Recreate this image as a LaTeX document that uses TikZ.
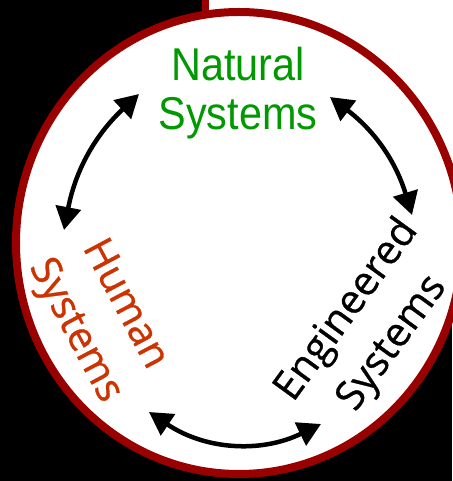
\documentclass[tikz,border=0pt]{standalone}
\usepackage{fontspec}
\setmainfont{Open Sans}
\newfontfamily\natfont[FakeStretch=0.9]{Liberation Sans}
\newfontfamily\sysfont[FakeBold=0.7]{Open Sans}
\usetikzlibrary{arrows.meta}
\definecolor{ringred}{RGB}{153,0,0}
\definecolor{natgreen}{RGB}{0,153,0}
\definecolor{humanorange}{RGB}{204,51,0}
\begin{document}
\begin{tikzpicture}[x=1pt,y=1pt,
  cyclearrow/.style={line width=4.5pt,
    {Triangle[length=23pt,width=25pt]}-{Triangle[length=23pt,width=25pt]}},
  syslabel/.style={align=center, inner sep=0pt},
  labelfont/.style={font=\sysfont\fontsize{40.5}{56}\selectfont}]
  \useasboundingbox (0,0) rectangle (452,481);
  % background panels
  \fill[black] (0,0) rectangle (452,481);
  \fill[white] (209,238) rectangle (452,481);
  \draw[ringred, line width=7.5pt] (205.5,481) -- (205.5,440);
  % the ring
  \draw[ringred, line width=8pt, fill=white] (239,238) ellipse [x radius=223, y radius=231];
  % labels
  \node[syslabel, natgreen, font=\natfont\fontsize{46}{49}\selectfont] (natural) at (238,388) {Natural\\Systems};
  \node[syslabel, humanorange, labelfont, rotate=-62] (human) at (99,163) {Human\\Systems};
  \node[syslabel, black, labelfont, rotate=54] (engineered) at (370,154) {Engineered\\Systems};
  % arrow end points
  \coordinate (hn1) at (64,251);
  \coordinate (hn2) at (139,387);
  \coordinate (ne1) at (330,384);
  \coordinate (ne2) at (412,266);
  \coordinate (he1) at (149,69);
  \coordinate (he2) at (321,57);
  % arrows
  \draw[cyclearrow] (hn1) to[bend left=18] (hn2);
  \draw[cyclearrow] (ne1) to[bend left=18] (ne2);
  \draw[cyclearrow] (he1) to[bend right=30] (he2);
\end{tikzpicture}
\end{document}
